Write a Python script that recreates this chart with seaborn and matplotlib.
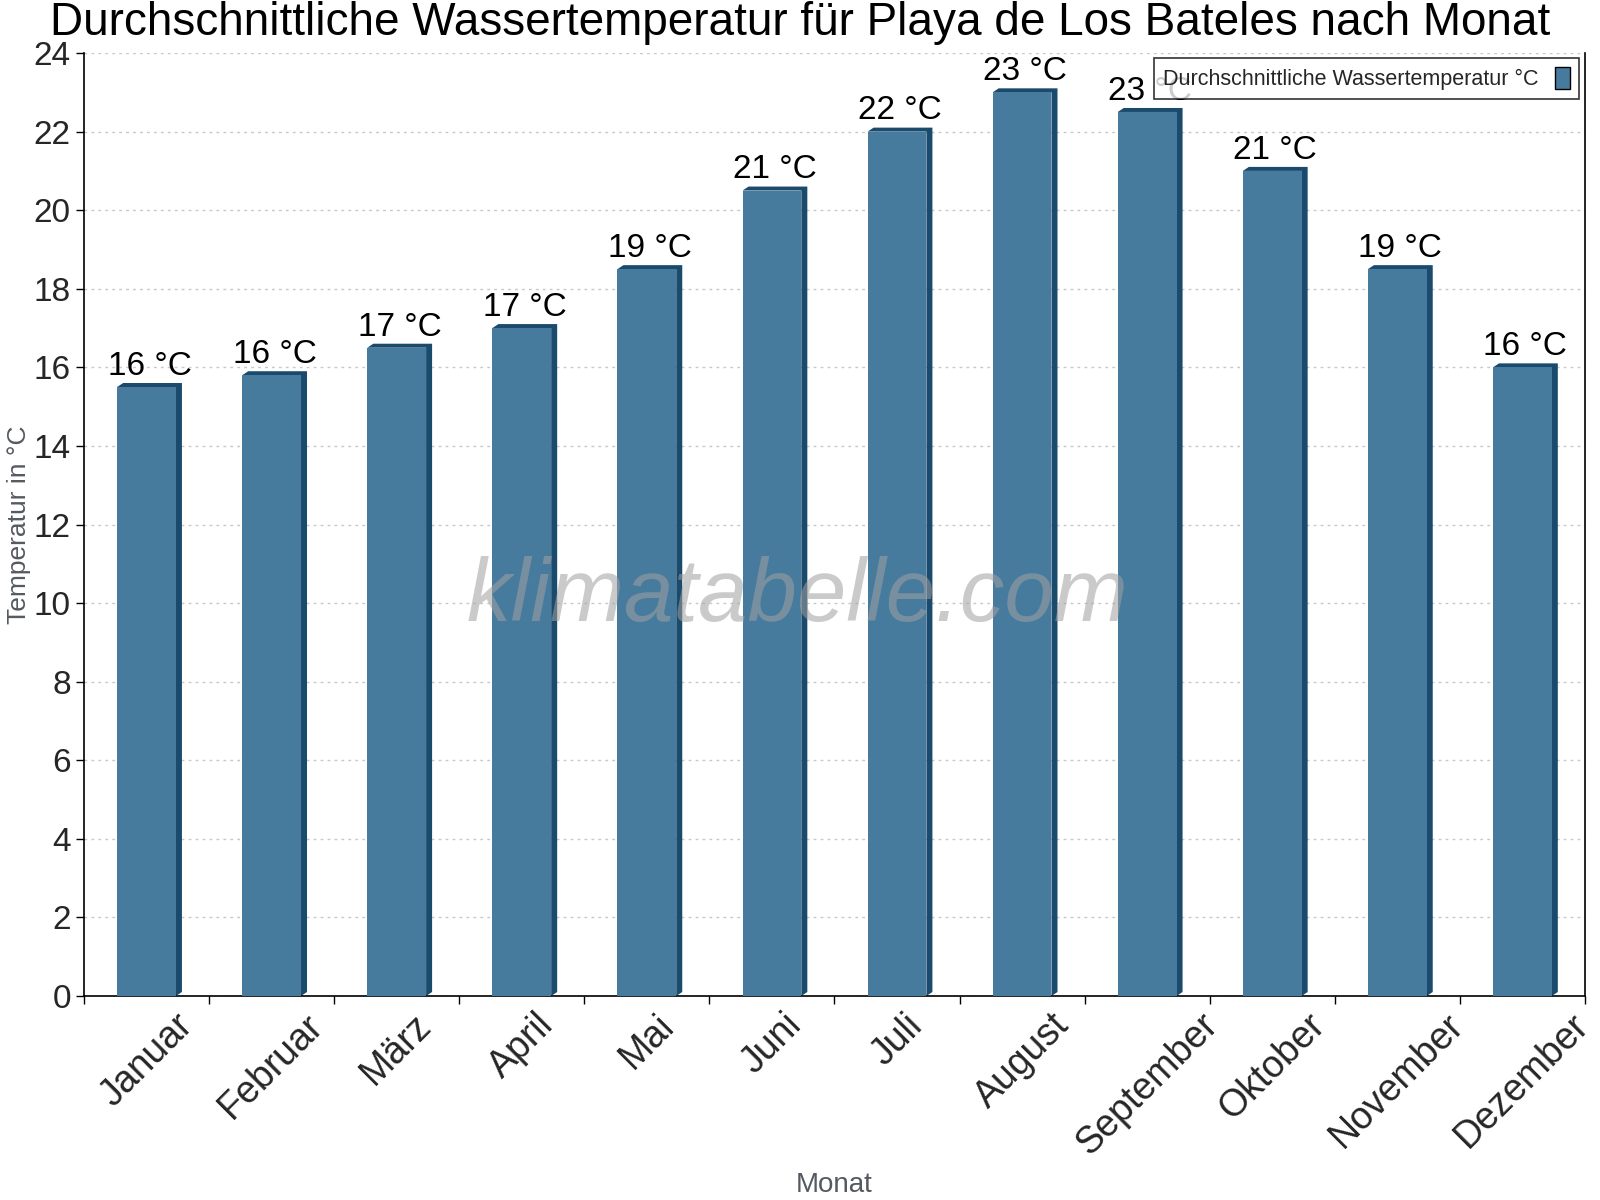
import matplotlib
matplotlib.use("Agg")
import matplotlib.pyplot as plt
import seaborn as sns
from matplotlib.patches import Polygon

months = ["Januar", "Februar", "März", "April", "Mai", "Juni",
          "Juli", "August", "September", "Oktober", "November", "Dezember"]
water_temp = [15.5, 15.8, 16.5, 17.0, 18.5, 20.5, 22.0, 23.0, 22.5, 21.0, 18.5, 16.0]
temp_labels = ["16 °C", "16 °C", "17 °C", "17 °C", "19 °C", "21 °C",
               "22 °C", "23 °C", "23 °C", "21 °C", "19 °C", "16 °C"]
y_ticks = list(range(0, 25, 2))

face_color = "#467b9e"
dark_color = "#1b4b6c"

sns.set_style("white")
plt.rcParams["font.family"] = ["Liberation Sans", "DejaVu Sans"]

fig = plt.figure(figsize=(16, 12), dpi=100)
ax = fig.add_axes([0.0525, 0.17, 0.9381, 0.7858])

sns.barplot(x=months, y=water_temp, color=face_color, saturation=1,
            width=0.47, ax=ax, zorder=3, linewidth=0,
            label="Durchschnittliche Wassertemperatur °C")

ax.set_xlim(-0.5, len(months) - 0.5)
ax.set_ylim(0, 24)

# 3D depth: pixel offsets converted to data units
px_x = (ax.get_xlim()[1] - ax.get_xlim()[0]) / (fig.get_figwidth() * fig.dpi * 0.9381)
px_y = (ax.get_ylim()[1] - ax.get_ylim()[0]) / (fig.get_figheight() * fig.dpi * 0.7858)
dx, dy = 6 * px_x, 4 * px_y
for bar, lab in zip(ax.patches, temp_labels):
    x0 = bar.get_x()
    x1 = x0 + bar.get_width()
    h = bar.get_height()
    poly = Polygon([(x0, h), (x0 + dx, h + dy), (x1 + dx, h + dy),
                    (x1 + dx, dy), (x1, 0), (x1, h)],
                   closed=True, facecolor=dark_color, edgecolor="none", zorder=2.5)
    ax.add_patch(poly)
    ax.text(x0 + bar.get_width() / 2 + dx / 2, h + dy + 0.03, lab,
            ha="center", va="bottom", fontsize=24, color="black", zorder=4)

ax.set_yticks(y_ticks)
ax.tick_params(axis="y", labelsize=24, length=6, width=1, direction="out", color="black", left=True)
ax.set_xticks(range(len(months)))
ax.set_xticklabels(months, rotation=45, ha="center", fontsize=27)
ax.tick_params(axis="x", which="major", length=0, pad=8)
ax.set_xticks([i - 0.5 for i in range(len(months) + 1)], minor=True)
ax.tick_params(axis="x", which="minor", length=6, width=1, direction="out", color="black", bottom=True)

ax.yaxis.grid(True, linestyle=(0, (2, 3)), color="#c8c8c8", linewidth=1, zorder=0)
ax.set_axisbelow(True)

for side in ["left", "bottom", "right"]:
    ax.spines[side].set_color("black")
    ax.spines[side].set_linewidth(1.2)
ax.spines["top"].set_visible(False)

ax.set_ylabel("Temperatur in °C", fontsize=19, color="#555a60")
ax.yaxis.set_label_coords(-0.035, 0.5)
ax.set_xlabel("Monat", fontsize=20, color="#555a60", labelpad=7)
fig.text(0.5, 0.999, "Durchschnittliche Wassertemperatur für Playa de Los Bateles nach Monat",
         ha="center", va="top", fontsize=33, color="black")

ax.text(0.475, 0.4225, "klimatabelle.com", transform=ax.transAxes, ha="center", va="center",
        fontsize=64, style="italic", color="#a0a0a0", alpha=0.55, zorder=5)

leg = ax.legend(loc="upper right", bbox_to_anchor=(0.996, 0.9946), borderaxespad=0,
                fontsize=15.5, markerfirst=False, frameon=True, fancybox=False,
                borderpad=0.4, handlelength=0.7, handleheight=1.2)
leg.get_frame().set_edgecolor("black")
leg.get_frame().set_linewidth(1.2)
for h in leg.legend_handles:
    h.set_edgecolor("black")
    h.set_linewidth(1)

fig.savefig("out.png", dpi=100)
